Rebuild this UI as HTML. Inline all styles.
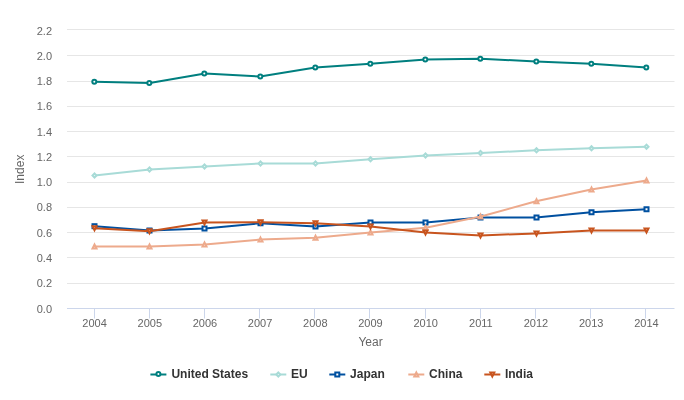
<!DOCTYPE html>
<html><head><meta charset="utf-8"><title>Index chart</title>
<style>
html,body{margin:0;padding:0;background:#fff;}
body{width:684px;height:400px;overflow:hidden;}
svg{display:block;font-family:"Liberation Sans",Arial,Helvetica,sans-serif;}
.yl{font-size:11px;fill:#666666;text-anchor:end;}
.xl{font-size:11px;fill:#666666;text-anchor:middle;}
.at{font-size:12px;fill:#666666;text-anchor:middle;}
.lg{font-size:12px;font-weight:bold;fill:#333333;}
</style></head><body>
<svg width="684" height="400" viewBox="0 0 684 400">
<rect x="0" y="0" width="684" height="400" fill="#ffffff"/>
<g stroke="#e6e6e6" stroke-width="1">
<path d="M67 29.5L674.5 29.5"/>
<path d="M67 55.5L674.5 55.5"/>
<path d="M67 81.5L674.5 81.5"/>
<path d="M67 106.5L674.5 106.5"/>
<path d="M67 131.5L674.5 131.5"/>
<path d="M67 156.5L674.5 156.5"/>
<path d="M67 182.5L674.5 182.5"/>
<path d="M67 207.5L674.5 207.5"/>
<path d="M67 232.5L674.5 232.5"/>
<path d="M67 257.5L674.5 257.5"/>
<path d="M67 283.5L674.5 283.5"/>
</g>
<g stroke="#ccd6eb" stroke-width="1"><path d="M67 308.5L674.5 308.5"/>
<path d="M94.5 308.5L94.5 318.5"/>
<path d="M149.5 308.5L149.5 318.5"/>
<path d="M204.5 308.5L204.5 318.5"/>
<path d="M259.5 308.5L259.5 318.5"/>
<path d="M314.5 308.5L314.5 318.5"/>
<path d="M369.5 308.5L369.5 318.5"/>
<path d="M425.5 308.5L425.5 318.5"/>
<path d="M480.5 308.5L480.5 318.5"/>
<path d="M535.5 308.5L535.5 318.5"/>
<path d="M590.5 308.5L590.5 318.5"/>
<path d="M645.5 308.5L645.5 318.5"/>
</g>
<text class="yl" x="52" y="35">2.2</text>
<text class="yl" x="52" y="60">2.0</text>
<text class="yl" x="52" y="85">1.8</text>
<text class="yl" x="52" y="110">1.6</text>
<text class="yl" x="52" y="136">1.4</text>
<text class="yl" x="52" y="161">1.2</text>
<text class="yl" x="52" y="186">1.0</text>
<text class="yl" x="52" y="211">0.8</text>
<text class="yl" x="52" y="237">0.6</text>
<text class="yl" x="52" y="262">0.4</text>
<text class="yl" x="52" y="287">0.2</text>
<text class="yl" x="52" y="313">0.0</text>
<text class="xl" x="94.6" y="327">2004</text>
<text class="xl" x="149.8" y="327">2005</text>
<text class="xl" x="205.0" y="327">2006</text>
<text class="xl" x="260.1" y="327">2007</text>
<text class="xl" x="315.3" y="327">2008</text>
<text class="xl" x="370.5" y="327">2009</text>
<text class="xl" x="425.7" y="327">2010</text>
<text class="xl" x="480.9" y="327">2011</text>
<text class="xl" x="536.0" y="327">2012</text>
<text class="xl" x="591.2" y="327">2013</text>
<text class="xl" x="646.4" y="327">2014</text>
<text class="at" x="370.5" y="345.6">Year</text>
<text class="at" transform="translate(24.4,169.3) rotate(-90)" x="0" y="0">Index</text>
<g><path d="M94.59 81.75 L149.77 83.00 L204.95 73.50 L260.14 76.50 L315.32 67.50 L370.50 63.75 L425.68 59.50 L480.86 58.75 L536.05 61.50 L591.23 63.75 L646.41 67.50" fill="none" stroke="#007f7f" stroke-width="2" stroke-linejoin="round" stroke-linecap="round"/>
<circle cx="94.30" cy="81.75" r="2" fill="#fff" stroke="#007f7f" stroke-width="2"/>
<circle cx="149.30" cy="83.00" r="2" fill="#fff" stroke="#007f7f" stroke-width="2"/>
<circle cx="204.30" cy="73.50" r="2" fill="#fff" stroke="#007f7f" stroke-width="2"/>
<circle cx="260.30" cy="76.50" r="2" fill="#fff" stroke="#007f7f" stroke-width="2"/>
<circle cx="315.30" cy="67.50" r="2" fill="#fff" stroke="#007f7f" stroke-width="2"/>
<circle cx="370.30" cy="63.75" r="2" fill="#fff" stroke="#007f7f" stroke-width="2"/>
<circle cx="425.30" cy="59.50" r="2" fill="#fff" stroke="#007f7f" stroke-width="2"/>
<circle cx="480.30" cy="58.75" r="2" fill="#fff" stroke="#007f7f" stroke-width="2"/>
<circle cx="536.30" cy="61.50" r="2" fill="#fff" stroke="#007f7f" stroke-width="2"/>
<circle cx="591.30" cy="63.75" r="2" fill="#fff" stroke="#007f7f" stroke-width="2"/>
<circle cx="646.30" cy="67.50" r="2" fill="#fff" stroke="#007f7f" stroke-width="2"/>
</g>
<g><path d="M94.59 175.50 L149.77 169.50 L204.95 166.50 L260.14 163.50 L315.32 163.50 L370.50 159.25 L425.68 155.50 L480.86 153.00 L536.05 150.25 L591.23 148.25 L646.41 146.75" fill="none" stroke="#a8dbd7" stroke-width="2" stroke-linejoin="round" stroke-linecap="round"/>
<path d="M94.50 173.50L96.50 175.50L94.50 177.50L92.50 175.50Z" fill="#fff" stroke="#a8dbd7" stroke-width="2"/>
<path d="M149.50 167.50L151.50 169.50L149.50 171.50L147.50 169.50Z" fill="#fff" stroke="#a8dbd7" stroke-width="2"/>
<path d="M204.50 164.50L206.50 166.50L204.50 168.50L202.50 166.50Z" fill="#fff" stroke="#a8dbd7" stroke-width="2"/>
<path d="M260.50 161.50L262.50 163.50L260.50 165.50L258.50 163.50Z" fill="#fff" stroke="#a8dbd7" stroke-width="2"/>
<path d="M315.50 161.50L317.50 163.50L315.50 165.50L313.50 163.50Z" fill="#fff" stroke="#a8dbd7" stroke-width="2"/>
<path d="M370.50 157.25L372.50 159.25L370.50 161.25L368.50 159.25Z" fill="#fff" stroke="#a8dbd7" stroke-width="2"/>
<path d="M425.50 153.50L427.50 155.50L425.50 157.50L423.50 155.50Z" fill="#fff" stroke="#a8dbd7" stroke-width="2"/>
<path d="M480.50 151.00L482.50 153.00L480.50 155.00L478.50 153.00Z" fill="#fff" stroke="#a8dbd7" stroke-width="2"/>
<path d="M536.50 148.25L538.50 150.25L536.50 152.25L534.50 150.25Z" fill="#fff" stroke="#a8dbd7" stroke-width="2"/>
<path d="M591.50 146.25L593.50 148.25L591.50 150.25L589.50 148.25Z" fill="#fff" stroke="#a8dbd7" stroke-width="2"/>
<path d="M646.50 144.75L648.50 146.75L646.50 148.75L644.50 146.75Z" fill="#fff" stroke="#a8dbd7" stroke-width="2"/>
</g>
<g><path d="M94.59 226.20 L149.77 230.50 L204.95 228.50 L260.14 223.25 L315.32 226.50 L370.50 222.50 L425.68 222.50 L480.86 217.50 L536.05 217.50 L591.23 212.25 L646.41 209.25" fill="none" stroke="#0050a0" stroke-width="2" stroke-linejoin="round" stroke-linecap="round"/>
<rect x="92.50" y="224.20" width="4" height="4" fill="#fff" stroke="#0050a0" stroke-width="2"/>
<rect x="147.50" y="228.50" width="4" height="4" fill="#fff" stroke="#0050a0" stroke-width="2"/>
<rect x="202.50" y="226.50" width="4" height="4" fill="#fff" stroke="#0050a0" stroke-width="2"/>
<rect x="258.50" y="221.25" width="4" height="4" fill="#fff" stroke="#0050a0" stroke-width="2"/>
<rect x="313.50" y="224.50" width="4" height="4" fill="#fff" stroke="#0050a0" stroke-width="2"/>
<rect x="368.50" y="220.50" width="4" height="4" fill="#fff" stroke="#0050a0" stroke-width="2"/>
<rect x="423.50" y="220.50" width="4" height="4" fill="#fff" stroke="#0050a0" stroke-width="2"/>
<rect x="478.50" y="215.50" width="4" height="4" fill="#fff" stroke="#0050a0" stroke-width="2"/>
<rect x="534.50" y="215.50" width="4" height="4" fill="#fff" stroke="#0050a0" stroke-width="2"/>
<rect x="589.50" y="210.25" width="4" height="4" fill="#fff" stroke="#0050a0" stroke-width="2"/>
<rect x="644.50" y="207.25" width="4" height="4" fill="#fff" stroke="#0050a0" stroke-width="2"/>
</g>
<g><path d="M94.59 246.50 L149.77 246.50 L204.95 244.40 L260.14 239.60 L315.32 237.80 L370.50 232.50 L425.68 227.80 L480.86 216.50 L536.05 201.25 L591.23 189.50 L646.41 180.50" fill="none" stroke="#edaa8c" stroke-width="2" stroke-linejoin="round" stroke-linecap="round"/>
<path d="M94.50 244.50L96.50 248.50L92.50 248.50Z" fill="#fff" stroke="#edaa8c" stroke-width="2"/>
<path d="M149.50 244.50L151.50 248.50L147.50 248.50Z" fill="#fff" stroke="#edaa8c" stroke-width="2"/>
<path d="M204.50 242.40L206.50 246.40L202.50 246.40Z" fill="#fff" stroke="#edaa8c" stroke-width="2"/>
<path d="M260.50 237.60L262.50 241.60L258.50 241.60Z" fill="#fff" stroke="#edaa8c" stroke-width="2"/>
<path d="M315.50 235.80L317.50 239.80L313.50 239.80Z" fill="#fff" stroke="#edaa8c" stroke-width="2"/>
<path d="M370.50 230.50L372.50 234.50L368.50 234.50Z" fill="#fff" stroke="#edaa8c" stroke-width="2"/>
<path d="M425.50 225.80L427.50 229.80L423.50 229.80Z" fill="#fff" stroke="#edaa8c" stroke-width="2"/>
<path d="M480.50 214.50L482.50 218.50L478.50 218.50Z" fill="#fff" stroke="#edaa8c" stroke-width="2"/>
<path d="M536.50 199.25L538.50 203.25L534.50 203.25Z" fill="#fff" stroke="#edaa8c" stroke-width="2"/>
<path d="M591.50 187.50L593.50 191.50L589.50 191.50Z" fill="#fff" stroke="#edaa8c" stroke-width="2"/>
<path d="M646.50 178.50L648.50 182.50L644.50 182.50Z" fill="#fff" stroke="#edaa8c" stroke-width="2"/>
</g>
<g><path d="M94.59 228.25 L149.77 231.20 L204.95 222.50 L260.14 222.30 L315.32 223.20 L370.50 226.40 L425.68 232.40 L480.86 235.40 L536.05 233.40 L591.23 230.50 L646.41 230.50" fill="none" stroke="#c8541e" stroke-width="2" stroke-linejoin="round" stroke-linecap="round"/>
<path d="M92.50 226.25L96.50 226.25L94.50 230.25Z" fill="#fff" stroke="#c8541e" stroke-width="2"/>
<path d="M147.50 229.20L151.50 229.20L149.50 233.20Z" fill="#fff" stroke="#c8541e" stroke-width="2"/>
<path d="M202.50 220.50L206.50 220.50L204.50 224.50Z" fill="#fff" stroke="#c8541e" stroke-width="2"/>
<path d="M258.50 220.30L262.50 220.30L260.50 224.30Z" fill="#fff" stroke="#c8541e" stroke-width="2"/>
<path d="M313.50 221.20L317.50 221.20L315.50 225.20Z" fill="#fff" stroke="#c8541e" stroke-width="2"/>
<path d="M368.50 224.40L372.50 224.40L370.50 228.40Z" fill="#fff" stroke="#c8541e" stroke-width="2"/>
<path d="M423.50 230.40L427.50 230.40L425.50 234.40Z" fill="#fff" stroke="#c8541e" stroke-width="2"/>
<path d="M478.50 233.40L482.50 233.40L480.50 237.40Z" fill="#fff" stroke="#c8541e" stroke-width="2"/>
<path d="M534.50 231.40L538.50 231.40L536.50 235.40Z" fill="#fff" stroke="#c8541e" stroke-width="2"/>
<path d="M589.50 228.50L593.50 228.50L591.50 232.50Z" fill="#fff" stroke="#c8541e" stroke-width="2"/>
<path d="M644.50 228.50L648.50 228.50L646.50 232.50Z" fill="#fff" stroke="#c8541e" stroke-width="2"/>
</g>
<g><path d="M150.4 374.5L166.4 374.5" stroke="#007f7f" stroke-width="2" fill="none"/>
<circle cx="158.40" cy="374.00" r="2" fill="#fff" stroke="#007f7f" stroke-width="2"/>
<text class="lg" x="171.4" y="378.4">United States</text></g>
<g><path d="M270.3 374.5L286.3 374.5" stroke="#a8dbd7" stroke-width="2" fill="none"/>
<path d="M278.30 372.50L280.30 374.50L278.30 376.50L276.30 374.50Z" fill="#fff" stroke="#a8dbd7" stroke-width="2"/>
<text class="lg" x="291.1" y="378.4">EU</text></g>
<g><path d="M329.3 374.5L345.3 374.5" stroke="#0050a0" stroke-width="2" fill="none"/>
<rect x="335.30" y="372.50" width="4" height="4" fill="#fff" stroke="#0050a0" stroke-width="2"/>
<text class="lg" x="350.1" y="378.4">Japan</text></g>
<g><path d="M408.3 374.5L424.3 374.5" stroke="#edaa8c" stroke-width="2" fill="none"/>
<path d="M416.30 372.50L418.30 376.50L414.30 376.50Z" fill="#fff" stroke="#edaa8c" stroke-width="2"/>
<text class="lg" x="429.1" y="378.4">China</text></g>
<g><path d="M484.3 374.5L500.3 374.5" stroke="#c8541e" stroke-width="2" fill="none"/>
<path d="M490.30 372.50L494.30 372.50L492.30 376.50Z" fill="#fff" stroke="#c8541e" stroke-width="2"/>
<text class="lg" x="504.9" y="378.4">India</text></g>
</svg></body></html>
